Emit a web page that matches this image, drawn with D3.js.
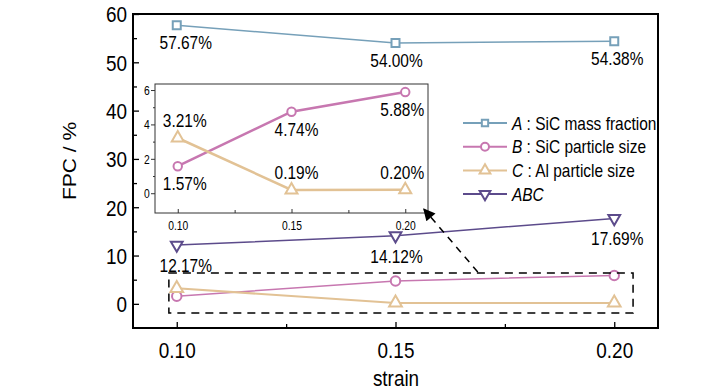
<!DOCTYPE html>
<html lang="en">
<head>
    <meta charset="UTF-8">
    <title>FPC vs strain</title>
    <script src="https://cdnjs.cloudflare.com/ajax/libs/d3/7.8.5/d3.min.js"></script>
    <style>
        body{
            margin:0px;
            background-color: white;
        }
        svg text{
            font-family: "Liberation Sans", Arial, sans-serif;
            fill: black;
        }
    </style>
</head>
<body>
    <svg id="chart"></svg>

    <script>
        // Data
        const strain = [0.10, 0.15, 0.20];
        const seriesA = [57.67, 54.00, 54.38];
        const seriesB = [1.57, 4.74, 5.88];
        const seriesC = [3.21, 0.19, 0.20];
        const seriesABC = [12.17, 14.12, 17.69];
        const legendKeys = ["A", "B", "C", "ABC"];
        const legendText = [" : SiC mass fraction", " : SiC particle size", " : Al particle size", ""];
        const yTicks = [0, 10, 20, 30, 40, 50, 60];
        const xTicks = [0.10, 0.15, 0.20];
        const insetYTicks = [0, 2, 4, 6];

        const W = 728, H = 390;
        const SQ = 0.86;   // the fonts in the figure look narrow
        const colors = {A: "#76a0b9", B: "#c777b0", C: "#e2c295", ABC: "#5c4b8b"};

        let svg = d3.select("#chart").attr("width", W).attr("height", H);

        // main scales
        const x = d3.scaleLinear().domain([0.09, 0.21]).range([133, 658]);
        const y = d3.scaleLinear().domain([-5, 60]).range([328, 14]);

        function txt(parent, px, py, str, size, anchor){
            return parent.append("text")
                .attr("transform", `translate(${px},${py}) scale(${SQ},1)`)
                .attr("text-anchor", anchor || "middle")
                .style("font-size", size + "px")
                .text(str);
        }

        const sym = {
            A: d3.symbol().type(d3.symbolSquare).size(64),
            B: d3.symbol().type(d3.symbolCircle).size(66),
            C: d3.symbol().type(d3.symbolTriangle).size(62),
            ABC: d3.symbol().type(d3.symbolTriangle).size(56)
        };
        const rot = {A: 0, B: 0, C: 0, ABC: 180};

        // axes (ticks point inward)
        const gx = svg.append("g").attr("transform", "translate(0,328)")
            .call(d3.axisBottom(x).tickValues(xTicks).tickSize(-6).tickPadding(14).tickFormat(d3.format(".2f")));
        svg.append("g").attr("transform", "translate(0,328)")
            .call(d3.axisBottom(x).tickValues([0.125, 0.175]).tickSize(-4).tickFormat(""));
        const gy = svg.append("g").attr("transform", "translate(133,0)")
            .call(d3.axisLeft(y).tickValues(yTicks).tickSize(-6).tickPadding(7));
        svg.append("g").attr("transform", "translate(133,0)")
            .call(d3.axisLeft(y).tickValues(d3.range(5, 60, 10)).tickSize(-4).tickFormat(""));
        svg.selectAll(".domain").remove();
        svg.selectAll(".tick line").attr("stroke", "black").attr("stroke-width", 1.3);
        gx.selectAll("text").style("font-size", "22px").attr("transform", `scale(${SQ},1)`);
        gy.selectAll("text").style("font-size", "22px").attr("dy", "0.36em").attr("transform", `scale(${SQ},1)`);

        svg.append("rect")
            .attr("x", 133).attr("y", 14).attr("width", 525).attr("height", 314)
            .attr("fill", "none").attr("stroke", "black").attr("stroke-width", 2);

        // axis titles
        svg.append("text")
            .attr("transform", `translate(76,161) scale(${SQ},1) rotate(-90)`)
            .attr("text-anchor", "middle").style("font-size", "21px").text("FPC / %");
        txt(svg, 396, 386, "strain", 22);

        // series in the main plot
        function drawSeries(g, xs, ys, key, values, width, size){
            const line = d3.line().x((d, i) => xs(strain[i])).y(d => ys(d));
            g.append("path").datum(values).attr("d", line)
                .attr("fill", "none").attr("stroke", colors[key]).attr("stroke-width", width);
            g.selectAll(null).data(values).enter().append("path")
                .attr("d", d3.symbol().type(sym[key].type()).size(size))
                .attr("transform", (d, i) => `translate(${xs(strain[i])},${ys(d)}) rotate(${rot[key]})`)
                .attr("fill", "white").attr("stroke", colors[key]).attr("stroke-width", 2);
        }

        const main = svg.append("g");
        drawSeries(main, x, y, "A", seriesA, 1.5, 64);
        drawSeries(main, x, y, "B", seriesB, 1.5, 70);
        drawSeries(main, x, y, "C", seriesC, 2, 70);
        drawSeries(main, x, y, "ABC", seriesABC, 1.5, 60);

        const pct = v => d3.format(".2f")(v) + "%";
        const dxMain = [9, 1, 3];
        seriesA.forEach((v, i) => txt(svg, x(strain[i]) + dxMain[i], y(v) + 24, pct(v), 18));
        seriesABC.forEach((v, i) => txt(svg, x(strain[i]) + dxMain[i], y(v) + 27, pct(v), 18));

        // dashed zoom box around B and C
        const box = {x0: 0.0982, x1: 0.2043, y0: -1.9, y1: 6.4};
        svg.append("rect")
            .attr("x", x(box.x0)).attr("y", y(box.y1))
            .attr("width", x(box.x1) - x(box.x0)).attr("height", y(box.y0) - y(box.y1))
            .attr("fill", "none").attr("stroke", "black").attr("stroke-width", 1.5)
            .attr("stroke-dasharray", "8,6");

        // inset
        const ix = d3.scaleLinear().domain([0.09, 0.21]).range([155, 428]);
        const iy = d3.scaleLinear().domain([-1.15, 6.35]).range([213, 84]);
        const inset = svg.append("g");
        inset.append("rect").attr("x", 155).attr("y", 84).attr("width", 273).attr("height", 129)
            .attr("fill", "white");
        const igx = inset.append("g").attr("transform", "translate(0,213)")
            .call(d3.axisBottom(ix).tickValues(xTicks).tickSize(-4).tickPadding(8).tickFormat(d3.format(".2f")));
        inset.append("g").attr("transform", "translate(0,213)")
            .call(d3.axisBottom(ix).tickValues([0.125, 0.175]).tickSize(-3).tickFormat(""));
        const igy = inset.append("g").attr("transform", "translate(155,0)")
            .call(d3.axisLeft(iy).tickValues(insetYTicks).tickSize(4).tickPadding(2));
        inset.append("g").attr("transform", "translate(155,0)")
            .call(d3.axisLeft(iy).tickValues([1, 3, 5]).tickSize(2).tickFormat(""));
        inset.selectAll(".domain").remove();
        inset.selectAll(".tick line").attr("stroke", "#333");
        igx.selectAll("text").style("font-size", "12px").attr("transform", `scale(${SQ},1)`);
        igy.selectAll("text").style("font-size", "12px").attr("dy", "0.36em").attr("transform", `scale(${SQ},1)`);
        inset.append("rect").attr("x", 155).attr("y", 84).attr("width", 273).attr("height", 129)
            .attr("fill", "none").attr("stroke", "#333").attr("stroke-width", 1);

        drawSeries(inset, ix, iy, "B", seriesB, 2.5, 56);
        drawSeries(inset, ix, iy, "C", seriesC, 2.5, 62);
        const dxIn = [7, 5, -3];
        seriesB.forEach((v, i) => txt(inset, ix(strain[i]) + dxIn[i], iy(v) + 24, pct(v), 18));
        seriesC.forEach((v, i) => txt(inset, ix(strain[i]) + dxIn[i], iy(v) - 11, pct(v), 18));

        // arrow from dashed box to inset
        svg.append("defs").append("marker")
            .attr("id", "head").attr("viewBox", "0 0 10 10")
            .attr("refX", 9).attr("refY", 5)
            .attr("markerWidth", 16).attr("markerHeight", 12)
            .attr("markerUnits", "userSpaceOnUse")
            .attr("orient", "auto")
            .append("path").attr("d", "M0,0 L10,5 L0,10 Z").attr("fill", "black");
        svg.append("line")
            .attr("x1", x(0.1688)).attr("y1", y(6.6))
            .attr("x2", x(0.1565)).attr("y2", y(19.6))
            .attr("stroke", "black").attr("stroke-width", 1.5)
            .attr("stroke-dasharray", "7,6")
            .attr("marker-end", "url(#head)");

        // legend
        const legend = svg.append("g");
        legendKeys.forEach((k, i) => {
            const ly = 123 + i * 23.7;
            legend.append("line").attr("x1", 463).attr("x2", 507).attr("y1", ly).attr("y2", ly)
                .attr("stroke", colors[k]).attr("stroke-width", 2);
            legend.append("path")
                .attr("d", d3.symbol().type(sym[k].type()).size(k === "A" ? 40 : 50))
                .attr("transform", `translate(485,${ly}) rotate(${rot[k]})`)
                .attr("fill", "white").attr("stroke", colors[k]).attr("stroke-width", 2);
            const t = legend.append("text")
                .attr("transform", `translate(512,${ly + 6.5}) scale(${SQ},1)`)
                .style("font-size", "18px");
            t.append("tspan").style("font-style", "italic").text(k);
            t.append("tspan").text(legendText[i]);
        });
    </script>
</body>
</html>
